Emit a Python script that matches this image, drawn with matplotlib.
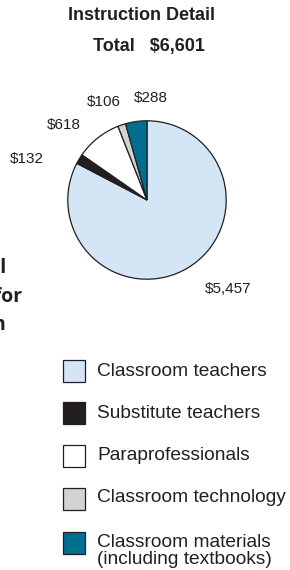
import matplotlib
matplotlib.use('Agg')
import matplotlib.pyplot as plt
from matplotlib.patches import Rectangle

plt.rcParams['font.family'] = ['Liberation Sans', 'DejaVu Sans']

# Data
categories = ['Classroom teachers', 'Substitute teachers', 'Paraprofessionals',
              'Classroom technology', 'Classroom materials\n(including textbooks)']
values = [5457, 132, 618, 106, 288]
value_labels = ['$5,457', '$132', '$618', '$106', '$288']
colors = ['#d4e6f6', '#231f20', '#ffffff', '#d1d3d4', '#006f8f']
total_label = 'Total   $6,601'

W, H = 290, 570
dark = '#231f20'

fig = plt.figure(figsize=(W / 100, H / 100), dpi=100)


def px(x, y):
    # pixel position (from top-left) -> figure fraction
    return x / W, 1 - y / H


# pie axes: centre (147, 200), radius 80 px
cx, cy, r = 147, 200, 80
ax = fig.add_axes([(cx - r) / W, 1 - (cy + r) / H, 2 * r / W, 2 * r / H])
wedges, _ = ax.pie(values, colors=colors, startangle=90, counterclock=False,
                   wedgeprops=dict(edgecolor=dark, linewidth=0.9))
ax.set_xlim(-1.01, 1.01)
ax.set_ylim(-1.01, 1.01)
ax.set_aspect('equal')
ax.axis('off')

# value labels
label_pos = [(228, 289), (27, 159), (64, 125), (104, 102), (151, 98)]
for (x, y), txt in zip(label_pos, value_labels):
    fig.text(*px(x, y), txt, ha='center', va='center', fontsize=11, color=dark)

# titles
fig.text(*px(141, 15), 'Instruction Detail', ha='center', va='center',
         fontsize=13, fontweight='bold', color=dark)
fig.text(*px(149, 47), total_label, ha='center', va='center',
         fontsize=13, fontweight='bold', color=dark)

# text from neighbouring panel, cut at the left edge
for (x, y), txt in zip([(6, 268), (22, 297), (6, 325)],
                       ['Instructional', 'spending for', 'instruction']):
    fig.text(*px(x, y), txt, ha='right', va='center', fontsize=14,
             fontweight='bold', color=dark, family=['Open Sans', 'DejaVu Sans'])

# legend
row_y = [371, 413, 456, 499, 543]
text_y = [372, 413, 456, 498, 551]
for yy, ty, col, cat in zip(row_y, text_y, colors, categories):
    x0, y0 = px(63, yy + 11)
    fig.add_artist(Rectangle((x0, y0), 22 / W, 22 / H, transform=fig.transFigure,
                             facecolor=col, edgecolor=dark, linewidth=0.9))
    fig.text(*px(97, ty), cat, ha='left', va='center', fontsize=13.8,
             color=dark, linespacing=0.94)

fig.savefig('out.png', dpi=100)
